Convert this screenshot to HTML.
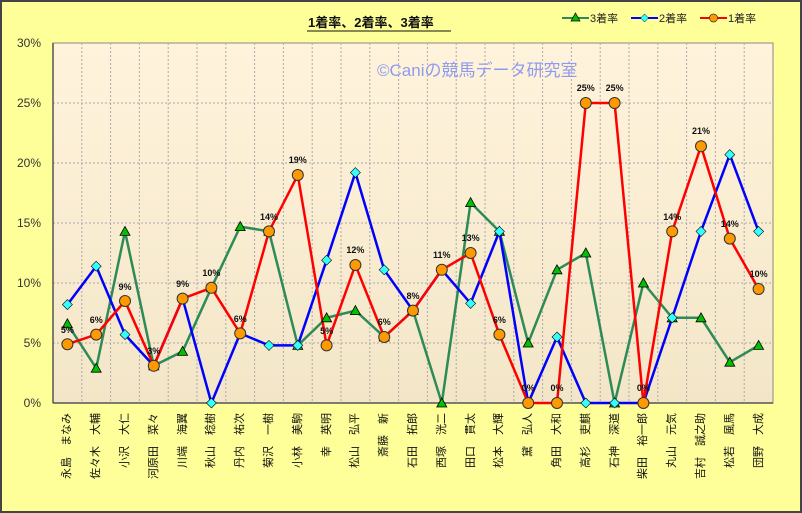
<!DOCTYPE html>
<html><head><meta charset="utf-8"><style>
body{margin:0;width:802px;height:513px;overflow:hidden;background:#fff;font-family:"Liberation Sans","Noto Sans CJK JP",sans-serif}
#f{position:absolute;left:0;top:0;width:798px;height:509px;background:#FFFF99;border:2px solid #444}
</style></head><body><div id="f"></div>
<svg width="802" height="513" style="position:absolute;left:0;top:0">
<defs><linearGradient id="g" x1="0" y1="0" x2="0" y2="1"><stop offset="0" stop-color="#FFF3DC"/><stop offset="1" stop-color="#F3E6C8"/></linearGradient></defs>
<rect x="53" y="43" width="720" height="360" fill="url(#g)" stroke="#888" stroke-width="1"/>
<g stroke="#aaa" stroke-dasharray="2,2" stroke-width="1">
<line x1="53" x2="773" y1="103" y2="103"/><line x1="53" x2="773" y1="163" y2="163"/><line x1="53" x2="773" y1="223" y2="223"/><line x1="53" x2="773" y1="283" y2="283"/><line x1="53" x2="773" y1="343" y2="343"/>
<line x1="81.8" x2="81.8" y1="43" y2="403"/><line x1="110.6" x2="110.6" y1="43" y2="403"/><line x1="139.4" x2="139.4" y1="43" y2="403"/><line x1="168.2" x2="168.2" y1="43" y2="403"/><line x1="197" x2="197" y1="43" y2="403"/><line x1="225.8" x2="225.8" y1="43" y2="403"/><line x1="254.6" x2="254.6" y1="43" y2="403"/><line x1="283.4" x2="283.4" y1="43" y2="403"/><line x1="312.2" x2="312.2" y1="43" y2="403"/><line x1="341" x2="341" y1="43" y2="403"/><line x1="369.8" x2="369.8" y1="43" y2="403"/><line x1="398.6" x2="398.6" y1="43" y2="403"/><line x1="427.4" x2="427.4" y1="43" y2="403"/><line x1="456.2" x2="456.2" y1="43" y2="403"/><line x1="485" x2="485" y1="43" y2="403"/><line x1="513.8" x2="513.8" y1="43" y2="403"/><line x1="542.6" x2="542.6" y1="43" y2="403"/><line x1="571.4" x2="571.4" y1="43" y2="403"/><line x1="600.2" x2="600.2" y1="43" y2="403"/><line x1="629" x2="629" y1="43" y2="403"/><line x1="657.8" x2="657.8" y1="43" y2="403"/><line x1="686.6" x2="686.6" y1="43" y2="403"/><line x1="715.4" x2="715.4" y1="43" y2="403"/><line x1="744.2" x2="744.2" y1="43" y2="403"/>
</g>
<line x1="53" x2="53" y1="43" y2="403" stroke="#555" stroke-width="1.5"/>
<line x1="53" x2="773" y1="403" y2="403" stroke="#555" stroke-width="1.5"/>
<g font-size="12" fill="#333" text-anchor="end">
<text x="41" y="47">30%</text><text x="41" y="107">25%</text><text x="41" y="167">20%</text><text x="41" y="227">15%</text><text x="41" y="287">10%</text><text x="41" y="347">5%</text><text x="41" y="407">0%</text>
</g>
<text x="377" y="76" font-size="17" fill="#8F9BF0" font-family="Liberation Sans,Noto Sans CJK JP,sans-serif">©Caniの競馬データ研究室</text>
<text x="308" y="27" font-size="13" font-weight="bold" fill="#111" font-family="Liberation Sans,Noto Sans CJK JP,sans-serif">1着率、2着率、3着率</text>
<line x1="307" x2="451" y1="31" y2="31" stroke="#111" stroke-width="1"/>
<g font-size="11" fill="#222" font-family="Liberation Sans,Noto Sans CJK JP,sans-serif">
<line x1="562" x2="589" y1="18" y2="18" stroke="#2E8B57" stroke-width="2"/><polygon points="575.5,13 580,21 571,21" fill="#00C000" stroke="#000" stroke-width="0.7"/><text x="590" y="22">3着率</text>
<line x1="631" x2="658" y1="18" y2="18" stroke="#0000FF" stroke-width="2"/><polygon points="644.5,14 648.5,18 644.5,22 640.5,18" fill="#33FFFF" stroke="#000" stroke-width="0.5"/><text x="659" y="22">2着率</text>
<line x1="700" x2="727" y1="18" y2="18" stroke="#FF0000" stroke-width="2"/><circle cx="713.5" cy="18" r="4" fill="#FF9900" stroke="#333" stroke-width="0.7"/><text x="728" y="22">1着率</text>
</g>
<polyline fill="none" stroke="#2E8B57" stroke-width="2.5" points="67.4,323.8 96.2,368.2 125,231.4 153.8,365.8 182.6,351.4 211.4,287.8 240.2,226.6 269,231.4 297.8,345.4 326.6,317.8 355.4,310.6 384.2,337 413,310.6 441.8,403 470.6,202.6 499.4,231.4 528.2,343 557,269.8 585.8,253 614.6,403 643.4,283 672.2,317.8 701,317.8 729.8,362.2 758.6,345.4"/>
<polyline fill="none" stroke="#0000FF" stroke-width="2.5" points="67.4,304.6 96.2,266.2 125,334.6 153.8,365.8 182.6,298.6 211.4,403 240.2,333.4 269,345.4 297.8,345.4 326.6,260.2 355.4,172.6 384.2,269.8 413,310.6 441.8,269.8 470.6,303.4 499.4,231.4 528.2,403 557,337 585.8,403 614.6,403 643.4,403 672.2,317.8 701,231.4 729.8,154.6 758.6,231.4"/>
<polyline fill="none" stroke="#FF0000" stroke-width="2.5" points="67.4,344.2 96.2,334.6 125,301 153.8,365.8 182.6,298.6 211.4,287.8 240.2,333.4 269,231.4 297.8,175 326.6,345.4 355.4,265 384.2,337 413,310.6 441.8,269.8 470.6,253 499.4,334.6 528.2,403 557,403 585.8,103 614.6,103 643.4,403 672.2,231.4 701,146.2 729.8,238.6 758.6,289"/>
<g fill="#00C000" stroke="#000" stroke-width="0.8">
<polygon points="67.4,318.8 72.4,327.8 62.4,327.8"/><polygon points="96.2,363.2 101.2,372.2 91.2,372.2"/><polygon points="125,226.4 130,235.4 120,235.4"/><polygon points="153.8,360.8 158.8,369.8 148.8,369.8"/><polygon points="182.6,346.4 187.6,355.4 177.6,355.4"/><polygon points="211.4,282.8 216.4,291.8 206.4,291.8"/><polygon points="240.2,221.6 245.2,230.6 235.2,230.6"/><polygon points="269,226.4 274,235.4 264,235.4"/><polygon points="297.8,340.4 302.8,349.4 292.8,349.4"/><polygon points="326.6,312.8 331.6,321.8 321.6,321.8"/><polygon points="355.4,305.6 360.4,314.6 350.4,314.6"/><polygon points="384.2,332 389.2,341 379.2,341"/><polygon points="413,305.6 418,314.6 408,314.6"/><polygon points="441.8,398 446.8,407 436.8,407"/><polygon points="470.6,197.6 475.6,206.6 465.6,206.6"/><polygon points="499.4,226.4 504.4,235.4 494.4,235.4"/><polygon points="528.2,338 533.2,347 523.2,347"/><polygon points="557,264.8 562,273.8 552,273.8"/><polygon points="585.8,248 590.8,257 580.8,257"/><polygon points="614.6,398 619.6,407 609.6,407"/><polygon points="643.4,278 648.4,287 638.4,287"/><polygon points="672.2,312.8 677.2,321.8 667.2,321.8"/><polygon points="701,312.8 706,321.8 696,321.8"/><polygon points="729.8,357.2 734.8,366.2 724.8,366.2"/><polygon points="758.6,340.4 763.6,349.4 753.6,349.4"/>
</g>
<g fill="#33FFFF" stroke="#000" stroke-width="0.6">
<polygon points="67.4,299.6 72.4,304.6 67.4,309.6 62.4,304.6"/><polygon points="96.2,261.2 101.2,266.2 96.2,271.2 91.2,266.2"/><polygon points="125,329.6 130,334.6 125,339.6 120,334.6"/><polygon points="153.8,360.8 158.8,365.8 153.8,370.8 148.8,365.8"/><polygon points="182.6,293.6 187.6,298.6 182.6,303.6 177.6,298.6"/><polygon points="211.4,398 216.4,403 211.4,408 206.4,403"/><polygon points="240.2,328.4 245.2,333.4 240.2,338.4 235.2,333.4"/><polygon points="269,340.4 274,345.4 269,350.4 264,345.4"/><polygon points="297.8,340.4 302.8,345.4 297.8,350.4 292.8,345.4"/><polygon points="326.6,255.2 331.6,260.2 326.6,265.2 321.6,260.2"/><polygon points="355.4,167.6 360.4,172.6 355.4,177.6 350.4,172.6"/><polygon points="384.2,264.8 389.2,269.8 384.2,274.8 379.2,269.8"/><polygon points="413,305.6 418,310.6 413,315.6 408,310.6"/><polygon points="441.8,264.8 446.8,269.8 441.8,274.8 436.8,269.8"/><polygon points="470.6,298.4 475.6,303.4 470.6,308.4 465.6,303.4"/><polygon points="499.4,226.4 504.4,231.4 499.4,236.4 494.4,231.4"/><polygon points="528.2,398 533.2,403 528.2,408 523.2,403"/><polygon points="557,332 562,337 557,342 552,337"/><polygon points="585.8,398 590.8,403 585.8,408 580.8,403"/><polygon points="614.6,398 619.6,403 614.6,408 609.6,403"/><polygon points="643.4,398 648.4,403 643.4,408 638.4,403"/><polygon points="672.2,312.8 677.2,317.8 672.2,322.8 667.2,317.8"/><polygon points="701,226.4 706,231.4 701,236.4 696,231.4"/><polygon points="729.8,149.6 734.8,154.6 729.8,159.6 724.8,154.6"/><polygon points="758.6,226.4 763.6,231.4 758.6,236.4 753.6,231.4"/>
</g>
<g fill="#FF9900" stroke="#333" stroke-width="1">
<circle cx="67.4" cy="344.2" r="5.5"/><circle cx="96.2" cy="334.6" r="5.5"/><circle cx="125" cy="301" r="5.5"/><circle cx="153.8" cy="365.8" r="5.5"/><circle cx="182.6" cy="298.6" r="5.5"/><circle cx="211.4" cy="287.8" r="5.5"/><circle cx="240.2" cy="333.4" r="5.5"/><circle cx="269" cy="231.4" r="5.5"/><circle cx="297.8" cy="175" r="5.5"/><circle cx="326.6" cy="345.4" r="5.5"/><circle cx="355.4" cy="265" r="5.5"/><circle cx="384.2" cy="337" r="5.5"/><circle cx="413" cy="310.6" r="5.5"/><circle cx="441.8" cy="269.8" r="5.5"/><circle cx="470.6" cy="253" r="5.5"/><circle cx="499.4" cy="334.6" r="5.5"/><circle cx="528.2" cy="403" r="5.5"/><circle cx="557" cy="403" r="5.5"/><circle cx="585.8" cy="103" r="5.5"/><circle cx="614.6" cy="103" r="5.5"/><circle cx="643.4" cy="403" r="5.5"/><circle cx="672.2" cy="231.4" r="5.5"/><circle cx="701" cy="146.2" r="5.5"/><circle cx="729.8" cy="238.6" r="5.5"/><circle cx="758.6" cy="289" r="5.5"/>
</g>
<g font-size="9" font-weight="bold" fill="#111" text-anchor="middle">
<text x="67.4" y="333">5%</text><text x="96.2" y="323">6%</text><text x="125" y="290">9%</text><text x="153.8" y="354">3%</text><text x="182.6" y="287">9%</text><text x="211.4" y="276">10%</text><text x="240.2" y="322">6%</text><text x="269" y="220">14%</text><text x="297.8" y="163">19%</text><text x="326.6" y="334">5%</text><text x="355.4" y="253">12%</text><text x="384.2" y="325">6%</text><text x="413" y="299">8%</text><text x="441.8" y="258">11%</text><text x="470.6" y="241">13%</text><text x="499.4" y="323">6%</text><text x="528.2" y="391">0%</text><text x="557" y="391">0%</text><text x="585.8" y="91">25%</text><text x="614.6" y="91">25%</text><text x="643.4" y="391">0%</text><text x="672.2" y="220">14%</text><text x="701" y="134">21%</text><text x="729.8" y="227">14%</text><text x="758.6" y="277">10%</text>
</g>
<g font-size="11" fill="#111" text-anchor="end" font-family="Noto Sans CJK JP,WenQuanYi Zen Hei,sans-serif">
<text transform="translate(70,413) rotate(-90)">永島　まなみ</text>
<text transform="translate(99,413) rotate(-90)">佐々木　大輔</text>
<text transform="translate(128,413) rotate(-90)">小沢　大仁</text>
<text transform="translate(157,413) rotate(-90)">河原田　菜々</text>
<text transform="translate(186,413) rotate(-90)">川端　海翼</text>
<text transform="translate(214,413) rotate(-90)">秋山　稔樹</text>
<text transform="translate(243,413) rotate(-90)">丹内　祐次</text>
<text transform="translate(272,413) rotate(-90)">菊沢　一樹</text>
<text transform="translate(301,413) rotate(-90)">小林　美駒</text>
<text transform="translate(330,413) rotate(-90)">幸　英明</text>
<text transform="translate(358,413) rotate(-90)">松山　弘平</text>
<text transform="translate(387,413) rotate(-90)">斎藤　新</text>
<text transform="translate(416,413) rotate(-90)">石田　拓郎</text>
<text transform="translate(445,413) rotate(-90)">西塚　洸二</text>
<text transform="translate(474,413) rotate(-90)">田口　貫太</text>
<text transform="translate(502,413) rotate(-90)">松本　大輝</text>
<text transform="translate(531,413) rotate(-90)">黛　弘人</text>
<text transform="translate(560,413) rotate(-90)">角田　大和</text>
<text transform="translate(589,413) rotate(-90)">高杉　吏麒</text>
<text transform="translate(618,413) rotate(-90)">石神　深道</text>
<text transform="translate(646,413) rotate(-90)">柴田　裕一郎</text>
<text transform="translate(675,413) rotate(-90)">丸山　元気</text>
<text transform="translate(704,413) rotate(-90)">吉村　誠之助</text>
<text transform="translate(733,413) rotate(-90)">松若　風馬</text>
<text transform="translate(762,413) rotate(-90)">団野　大成</text>
</g>
</svg>
</body></html>
